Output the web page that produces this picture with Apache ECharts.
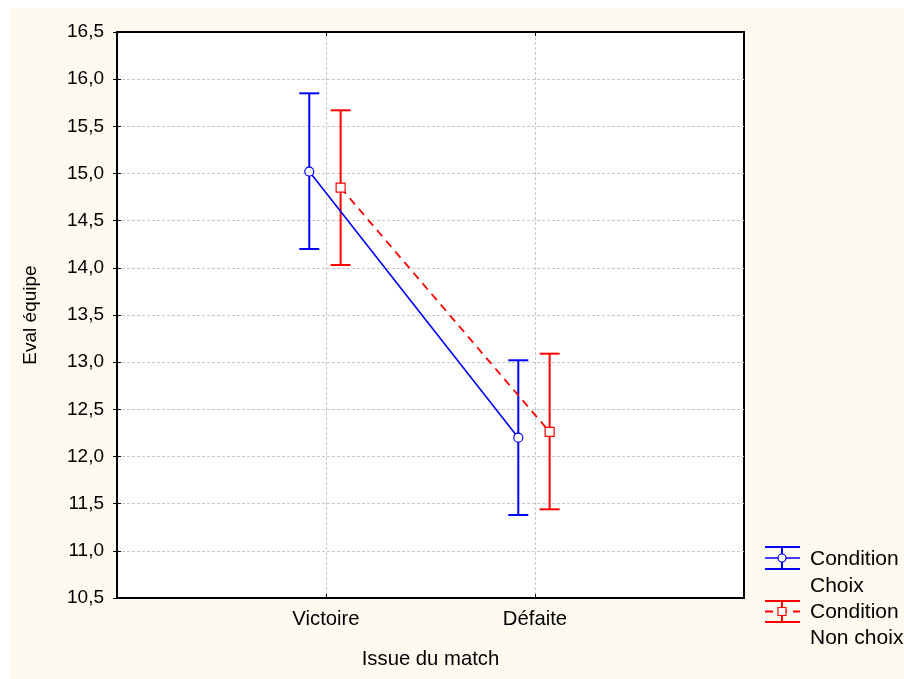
<!DOCTYPE html>
<html>
<head>
<meta charset="utf-8">
<script src="https://cdn.jsdelivr.net/npm/echarts@6/dist/echarts.min.js"></script>
<style>
html,body{margin:0;padding:0;background:#ffffff;}
#bg{position:absolute;left:10px;top:8px;width:894px;height:671px;background:#fefaf0;}
#c{position:absolute;left:0;top:0;width:904px;height:679px;}
</style>
</head>
<body>
<div id="bg"></div>
<div id="c"></div>
<script>
// ---- data ----
var categories = ['Victoire', 'Défaite'];
var seriesNames = ['Condition\nChoix', 'Condition\nNon choix'];
var choixMean = [15.02, 12.20];
var choixLow = [14.20, 11.38];
var choixHigh = [15.85, 13.02];
var nonChoixMean = [14.85, 12.26];
var nonChoixLow = [14.03, 11.44];
var nonChoixHigh = [15.67, 13.09];
var yTicks = [10.5, 11.0, 11.5, 12.0, 12.5, 13.0, 13.5, 14.0, 14.5, 15.0, 15.5, 16.0, 16.5];
var xTitle = 'Issue du match';
var yTitle = 'Eval équipe';

var FONT = '"Liberation Sans", Arial, sans-serif';
var offsets = [-0.08, 0.07];
var BLUE = '#0000ff', RED = '#ff0000';

function pts(means, off) {
  return means.map(function (v, i) { return [i + 1 + off, v]; });
}
function bars(lows, highs, off) {
  return lows.map(function (v, i) { return [i + 1 + off, v, highs[i]]; });
}
function errRender(color) {
  return function (params, api) {
    var x = api.value(0);
    var lo = api.coord([x, api.value(1)]);
    var hi = api.coord([x, api.value(2)]);
    var w = 10;
    var st = { stroke: color, lineWidth: 2 };
    return {
      type: 'group',
      children: [
        { type: 'line', shape: { x1: lo[0], y1: lo[1], x2: hi[0], y2: hi[1] }, style: st },
        { type: 'line', shape: { x1: lo[0] - w, y1: lo[1], x2: lo[0] + w, y2: lo[1] }, style: st },
        { type: 'line', shape: { x1: hi[0] - w, y1: hi[1], x2: hi[0] + w, y2: hi[1] }, style: st }
      ]
    };
  };
}

var chart = echarts.init(document.getElementById('c'));
var gridLine = { show: true, showMinLine: false, showMaxLine: false, lineStyle: { color: '#c8c8c8', type: [3, 2], width: 1 } };
var option = {
  backgroundColor: 'transparent',
  animation: false,
  grid: {
    left: 117, right: 160, top: 32, bottom: 81,
    show: true, backgroundColor: '#ffffff', borderColor: '#000000', borderWidth: 2
  },
  xAxis: [{
    type: 'value', min: 0, max: 3, interval: 1, position: 'bottom',
    name: xTitle, nameLocation: 'middle', nameGap: 61,
    nameTextStyle: { fontFamily: FONT, fontSize: 20.3, color: '#000', verticalAlign: 'middle' },
    axisLine: { show: false },
    axisTick: { show: true, inside: true, length: 4, lineStyle: { color: '#000' } },
    axisLabel: {
      fontFamily: FONT, fontSize: 20.3, color: '#000', margin: 11,
      formatter: function (v) { return categories[v - 1] || ''; }
    },
    splitLine: gridLine
  }, {
    type: 'value', min: 0, max: 3, interval: 1, position: 'top',
    axisLine: { show: false },
    axisTick: { show: true, inside: true, length: 4, lineStyle: { color: '#000' } },
    axisLabel: { show: false }, splitLine: { show: false }
  }],
  yAxis: [{
    type: 'value', min: yTicks[0], max: yTicks[yTicks.length - 1], interval: 0.5, position: 'left',
    name: yTitle, nameLocation: 'middle', nameGap: 86, nameRotate: 90,
    nameTextStyle: { fontFamily: FONT, fontSize: 19, color: '#000', verticalAlign: 'middle' },
    axisLine: { show: false },
    axisTick: { show: true, inside: true, length: 4, lineStyle: { color: '#000' } },
    axisLabel: {
      fontFamily: FONT, fontSize: 19, color: '#000', margin: 13,
      formatter: function (v) { return v.toFixed(1).replace('.', ','); }
    },
    splitLine: gridLine
  }, {
    type: 'value', min: yTicks[0], max: yTicks[yTicks.length - 1], interval: 0.5, position: 'right',
    axisLine: { show: false },
    axisTick: { show: true, inside: true, length: 4, lineStyle: { color: '#000' } },
    axisLabel: { show: false }, splitLine: { show: false }
  }],
  series: [
    {
      name: seriesNames[0], type: 'line', data: pts(choixMean, offsets[0]),
      lineStyle: { color: BLUE, width: 1.6 },
      symbol: 'circle', symbolSize: 9,
      itemStyle: { color: '#ffffff', borderColor: BLUE, borderWidth: 1.2 }, z: 5
    },
    {
      name: seriesNames[1], type: 'line', data: pts(nonChoixMean, offsets[1]),
      lineStyle: { color: RED, width: 1.8, type: [8, 6] },
      symbol: 'rect', symbolSize: 9,
      itemStyle: { color: '#ffffff', borderColor: RED, borderWidth: 1.2 }, z: 5
    },
    {
      type: 'custom', data: bars(choixLow, choixHigh, offsets[0]),
      renderItem: errRender(BLUE), z: 3
    },
    {
      type: 'custom', data: bars(nonChoixLow, nonChoixHigh, offsets[1]),
      renderItem: errRender(RED), z: 3
    }
  ],
  graphic: [
    // legend entry 1
    { type: 'line', shape: { x1: 765, y1: 547, x2: 800, y2: 547 }, style: { stroke: BLUE, lineWidth: 2 } },
    { type: 'line', shape: { x1: 765, y1: 569, x2: 800, y2: 569 }, style: { stroke: BLUE, lineWidth: 2 } },
    { type: 'line', shape: { x1: 765, y1: 558, x2: 800, y2: 558 }, style: { stroke: BLUE, lineWidth: 1.6 } },
    { type: 'line', shape: { x1: 782, y1: 547, x2: 782, y2: 569 }, style: { stroke: BLUE, lineWidth: 2 } },
    { type: 'circle', shape: { cx: 782, cy: 558, r: 4 }, style: { fill: '#fff', stroke: BLUE, lineWidth: 1.2 } },
    { type: 'text', x: 810, y: 559, style: { text: seriesNames[0].split('\n')[0], font: '21px ' + FONT, fill: '#000', verticalAlign: 'middle' } },
    { type: 'text', x: 810, y: 586, style: { text: seriesNames[0].split('\n')[1], font: '21px ' + FONT, fill: '#000', verticalAlign: 'middle' } },
    // legend entry 2
    { type: 'line', shape: { x1: 765, y1: 601, x2: 800, y2: 601 }, style: { stroke: RED, lineWidth: 2 } },
    { type: 'line', shape: { x1: 765, y1: 622, x2: 800, y2: 622 }, style: { stroke: RED, lineWidth: 2 } },
    { type: 'line', shape: { x1: 765, y1: 611.5, x2: 800, y2: 611.5 }, style: { stroke: RED, lineWidth: 1.8, lineDash: [8, 6] } },
    { type: 'line', shape: { x1: 782, y1: 601, x2: 782, y2: 622 }, style: { stroke: RED, lineWidth: 2 } },
    { type: 'rect', shape: { x: 778, y: 607.5, width: 8, height: 8 }, style: { fill: '#fff', stroke: RED, lineWidth: 1.2 } },
    { type: 'text', x: 810, y: 612, style: { text: seriesNames[1].split('\n')[0], font: '21px ' + FONT, fill: '#000', verticalAlign: 'middle' } },
    { type: 'text', x: 810, y: 638, style: { text: seriesNames[1].split('\n')[1], font: '21px ' + FONT, fill: '#000', verticalAlign: 'middle' } }
  ]
};
chart.setOption(option);
</script>
</body>
</html>
